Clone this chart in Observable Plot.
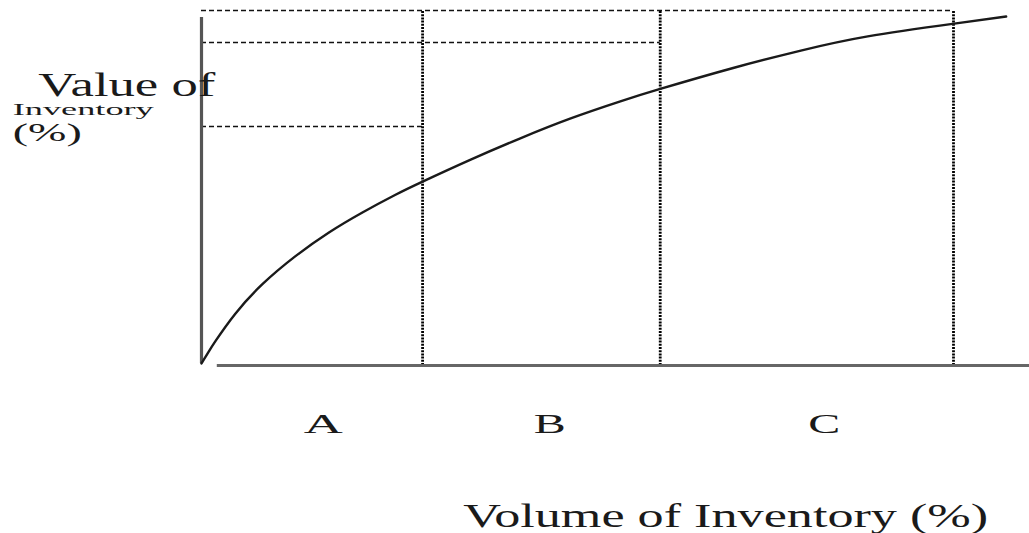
<!DOCTYPE html>
<html>
<head>
<meta charset="utf-8">
<script src="https://cdn.jsdelivr.net/npm/d3@7"></script>
<script src="https://cdn.jsdelivr.net/npm/@observablehq/plot@0.6"></script>
<style>
  html, body { margin: 0; padding: 0; background: #fff; }
  svg { display: block; }
</style>
</head>
<body>
<div id="chart"></div>
<script>
// Cumulative curve: volume of inventory (%) vs value of inventory (%)
const volumePct = [0, 0.9, 1.9, 4.5, 8.1, 12.5, 16.9, 21.4, 25.8, 29.4, 35.8, 42.4, 49.1, 55.7, 61.0, 70.7, 79.7, 88.6, 100.1, 107.0];
const valuePct  = [0.6, 3.7, 7.0, 14.6, 22.9, 30.8, 37.4, 43.1, 48.1, 51.8, 58.0, 64.0, 69.6, 74.4, 77.9, 83.8, 88.7, 92.7, 96.3, 98.3];

// ABC class boundaries (volume %) and labels
const classLabels = ["A", "B", "C"];
const classBounds = [29.4, 61.0, 100.0];

// Dashed guide levels (value %) and where they end (volume %)
const guideLevels = [100.0, 91.0, 67.3];
const guideEnds   = [100.0, 61.0, 29.4];

const yLabelLines = ["Value of", "Inventory", "(%)"];
const xLabel = "Volume of Inventory (%)";

const curve = volumePct.map((v, i) => ({x: v, y: valuePct[i]}));
const guides = guideLevels.map((g, i) => ({y: g, x2: guideEnds[i]}));
const labelPos = [16.2, 46.3, 82.8];
const classes = classLabels.map((c, i) => ({label: c, x: labelPos[i]}));

const yLab = [
  {t: yLabelLines[0], x: -21.7, y: 79.0, size: 33},
  {t: yLabelLines[1], x: -25.1, y: 72.2, size: 17},
  {t: yLabelLines[2], x: -25.1, y: 65.5, size: 25}
];

const lengths = {"Value of": 177, "Inventory": 141, "(%)": 69, "A": 39, "B": 32, "C": 32, [xLabel]: 525};

const font = "'Liberation Serif', 'Times New Roman', serif";
const ink = "#1a1a1a";

const plot = Plot.plot({
  width: 1029,
  height: 533,
  marginLeft: 201,
  marginRight: 76,
  marginTop: 10,
  marginBottom: 168,
  x: {domain: [0, 100], axis: null},
  y: {domain: [0, 100], axis: null},
  style: {background: "#fff", fontFamily: font},
  marks: [
    // dashed horizontal guides
    Plot.ruleY(guides, {y: "y", x1: 0, x2: "x2", stroke: "#111", strokeWidth: 1.5, strokeDasharray: "5,3"}),
    // dotted vertical class boundaries
    Plot.ruleX(classBounds, {x: d => d, y1: 0, y2: 100, stroke: "#000", strokeWidth: 2.8, strokeDasharray: "2,1.2"}),
    // axes lines
    Plot.ruleX([0], {y1: 0.5, y2: 98, stroke: "#555", strokeWidth: 3.2}),
    Plot.ruleY([0], {x1: 2.1, x2: 110.2, stroke: "#666", strokeWidth: 3}),
    // curve
    Plot.line(curve, {x: "x", y: "y", curve: "natural", stroke: "#1a1a1a", strokeWidth: 2.4}),
    // class labels
    Plot.text(classes, {x: "x", y: -16.5, text: "label", fontSize: 27, fill: ink, textAnchor: "middle", lineAnchor: "middle"}),
    // y label
    Plot.text(yLab, {x: "x", y: "y", text: "t", fontSize: "size", fill: ink, textAnchor: "start", lineAnchor: "middle"}),
    // x label
    Plot.text([xLabel], {x: 34.8, y: -42.6, text: d => d, fontSize: 33, fill: ink, textAnchor: "start", lineAnchor: "middle"})
  ]
});

d3.select(plot).selectAll("text").each(function() {
  const t = this.textContent;
  if (lengths[t] != null) {
    d3.select(this).attr("textLength", lengths[t]).attr("lengthAdjust", "spacingAndGlyphs");
  }
});

document.getElementById("chart").appendChild(plot);
</script>
</body>
</html>
